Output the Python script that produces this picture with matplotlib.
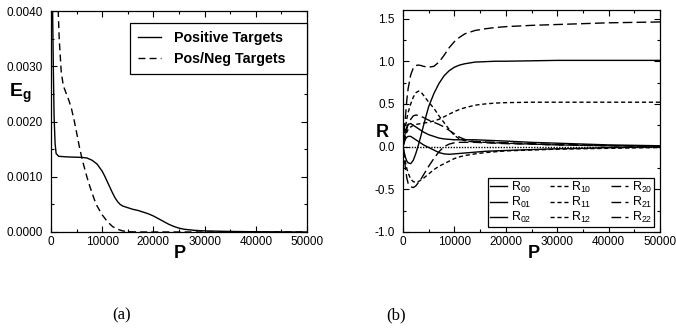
import numpy as np
import matplotlib
matplotlib.use("Agg")
from matplotlib import pyplot as plt
from matplotlib.ticker import MultipleLocator, FormatStrFormatter

plt.rcParams['font.family'] = ['Liberation Sans', 'DejaVu Sans']
plt.rcParams['mathtext.fontset'] = 'custom'
plt.rcParams['mathtext.rm'] = 'Liberation Sans'
plt.rcParams['mathtext.it'] = 'Liberation Sans'
plt.rcParams['mathtext.bf'] = 'Liberation Sans:bold'

# ---- panel (a): generalisation error E_g vs P
P_pos = [0, 150, 300, 450, 600, 800, 1000, 1500, 3000, 6000, 7000, 8000, 9000,
         10000, 10500, 11000, 11500, 12000, 12500, 13000, 13500, 14000, 15000,
         16000, 17000, 18000, 19000, 20000, 21000, 22000, 23000, 24000, 25000,
         26000, 28000, 30000, 35000, 40000, 45000, 50000]
Eg_pos = [0.0065, 0.0050, 0.0041, 0.0030, 0.0021, 0.0016, 0.00142, 0.00137,
          0.00136, 0.00135, 0.00134, 0.00130, 0.00123, 0.00110, 0.00101,
          0.00091, 0.00081, 0.00071, 0.00062, 0.00055, 0.00050, 0.00047,
          0.00044, 0.00041, 0.00039, 0.00036, 0.00033, 0.00029, 0.00024,
          0.00019, 0.00014, 0.00010, 0.00007, 0.00005, 0.00003, 0.00002,
          0.00001, 0.000005, 0.000002, 0.0]

P_pn = [1100, 1300, 1450, 1600, 1800, 2000, 2400, 3000, 3500, 4000, 4500, 5000,
        5500, 6000, 6500, 7000, 7500, 8000, 8500, 9000, 9500, 10000, 11000,
        12000, 13000, 14000, 15000, 17000, 50000]
Eg_pn = [0.0048, 0.0043, 0.0039, 0.0035, 0.0032, 0.0029, 0.00265, 0.00250,
         0.00238, 0.00223, 0.00203, 0.00180, 0.00156, 0.00135, 0.00117,
         0.00100, 0.00085, 0.00071, 0.00058, 0.00047, 0.00039, 0.00031,
         0.00019, 0.00010, 0.00005, 0.00002, 0.000005, 0.0, 0.0]

# ---- panel (b): overlaps R_ij vs P
P_R = [0, 250, 500, 750, 1000, 1500, 2000, 2500, 3000, 3500, 4000, 5000, 6000,
       7000, 8000, 9000, 10000, 11000, 12000, 13000, 14000, 16000, 18000,
       20000, 25000, 30000, 35000, 40000, 45000, 50000]
R00 = [0, -0.07, -0.13, -0.17, -0.19, -0.20, -0.16, -0.08, 0.02, 0.13, 0.25,
       0.47, 0.62, 0.74, 0.83, 0.89, 0.93, 0.955, 0.97, 0.98, 0.99, 0.995,
       1.0, 1.0, 1.005, 1.01, 1.01, 1.01, 1.01, 1.01]
R01 = [0, 0.10, 0.18, 0.23, 0.26, 0.27, 0.25, 0.23, 0.21, 0.19, 0.17, 0.14,
       0.12, 0.10, 0.09, 0.085, 0.08, 0.08, 0.08, 0.08, 0.08, 0.075, 0.07,
       0.065, 0.05, 0.04, 0.03, 0.02, 0.015, 0.01]
R02 = [0, 0.05, 0.09, 0.11, 0.12, 0.12, 0.10, 0.08, 0.06, 0.04, 0.02, -0.01,
       -0.04, -0.07, -0.085, -0.09, -0.085, -0.08, -0.075, -0.07, -0.065,
       -0.055, -0.05, -0.045, -0.035, -0.025, -0.02, -0.012, -0.008, -0.005]
R10 = [0, 0.12, 0.24, 0.33, 0.40, 0.50, 0.58, 0.63, 0.65, 0.64, 0.60, 0.52,
       0.45, 0.36, 0.28, 0.20, 0.13, 0.09, 0.07, 0.06, 0.055, 0.05, 0.045,
       0.04, 0.03, 0.02, 0.015, 0.01, 0.007, 0.005]
R11 = [0, 0.07, 0.13, 0.17, 0.20, 0.23, 0.25, 0.26, 0.265, 0.27, 0.275,
       0.285, 0.30, 0.32, 0.35, 0.38, 0.41, 0.435, 0.455, 0.47, 0.485, 0.50,
       0.51, 0.515, 0.52, 0.52, 0.52, 0.52, 0.52, 0.52]
R12 = [0, -0.10, -0.19, -0.26, -0.31, -0.38, -0.41, -0.42, -0.41, -0.39,
       -0.37, -0.32, -0.27, -0.23, -0.20, -0.17, -0.14, -0.12, -0.105, -0.095,
       -0.085, -0.07, -0.06, -0.05, -0.04, -0.03, -0.025, -0.02, -0.015, -0.01]
R20 = [0, 0.08, 0.15, 0.21, 0.26, 0.32, 0.36, 0.37, 0.365, 0.355, 0.34, 0.31,
       0.285, 0.26, 0.23, 0.19, 0.15, 0.11, 0.085, 0.07, 0.06, 0.055, 0.05,
       0.045, 0.035, 0.025, 0.02, 0.012, 0.008, 0.005]
R21 = [0, -0.14, -0.27, -0.37, -0.43, -0.47, -0.48, -0.46, -0.42, -0.38,
       -0.33, -0.23, -0.14, -0.06, 0.0, 0.03, 0.045, 0.05, 0.05, 0.05, 0.05,
       0.045, 0.04, 0.035, 0.028, 0.02, 0.015, 0.01, 0.007, 0.005]
R22 = [0, 0.20, 0.37, 0.55, 0.68, 0.84, 0.92, 0.95, 0.955, 0.95, 0.94, 0.93,
       0.94, 0.99, 1.07, 1.16, 1.23, 1.28, 1.32, 1.34, 1.36, 1.38, 1.395,
       1.405, 1.42, 1.43, 1.44, 1.45, 1.455, 1.46]

short_dash = (0, (3, 2))
long_dash = (0, (7, 3))

fig = plt.figure(figsize=(6.76, 3.28), dpi=100)
W, H = 676.0, 328.0
ax1 = fig.add_axes([51/W, 1-232/H, 256/W, 221/H])
ax2 = fig.add_axes([403/W, 1-232/H, 257/W, 222/H])

for ax in (ax1, ax2):
    ax.tick_params(which='both', direction='in', top=True, right=True,
                   labelsize=8.5, width=0.8)
    ax.tick_params(axis='x', pad=3)
    ax.tick_params(axis='y', pad=6)
    ax.tick_params(which='major', length=4)
    ax.tick_params(which='minor', length=2.5)
    for s in ax.spines.values():
        s.set_linewidth(0.9)
    ax.set_xlim(0, 50000)
    ax.xaxis.set_major_locator(MultipleLocator(10000))
    ax.xaxis.set_minor_locator(MultipleLocator(5000))

# panel (a)
ax1.plot(P_pos, Eg_pos, color='black', lw=1.0, label='Positive Targets')
ax1.plot(P_pn, Eg_pn, color='black', lw=1.0, linestyle=(0, (5, 3)),
         label='Pos/Neg Targets')
ax1.set_ylim(0, 0.004)
ax1.yaxis.set_major_locator(MultipleLocator(0.001))
ax1.yaxis.set_minor_locator(MultipleLocator(0.0005))
ax1.yaxis.set_major_formatter(FormatStrFormatter('%.4f'))
leg1 = ax1.legend(loc='upper left', bbox_to_anchor=(0.309, 0.715, 0.691, 0.231),
                  mode='expand', borderaxespad=0, fancybox=False,
                  edgecolor='black', framealpha=1, handlelength=1.6,
                  handletextpad=0.9, borderpad=0.55, labelspacing=0.5,
                  prop={'weight': 'bold', 'size': 10.3})
leg1.get_frame().set_linewidth(0.9)

# panel (b)
ax2.axhline(0, color='black', lw=1.0, linestyle=(0, (1, 1)))
curves = [(R00, '-', r'$R_{00}$'), (R01, '-', r'$R_{01}$'),
          (R02, '-', r'$R_{02}$'), (R10, short_dash, r'$R_{10}$'),
          (R11, short_dash, r'$R_{11}$'), (R12, short_dash, r'$R_{12}$'),
          (R20, long_dash, r'$R_{20}$'), (R21, long_dash, r'$R_{21}$'),
          (R22, long_dash, r'$R_{22}$')]
for vals, ls, lab in curves:
    ax2.plot(P_R, vals, color='black', lw=1.0, linestyle=ls, label=lab)
ax2.set_ylim(-1.0, 1.6)
ax2.yaxis.set_major_locator(MultipleLocator(0.5))
ax2.yaxis.set_minor_locator(MultipleLocator(0.25))
ax2.yaxis.set_major_formatter(FormatStrFormatter('%.1f'))
leg2 = ax2.legend(loc='lower left', bbox_to_anchor=(0.331, 0.0225, 0.646, 0.2),
                  mode='expand', ncol=3, borderaxespad=0, fancybox=False,
                  edgecolor='black', framealpha=1, handlelength=1.4,
                  handletextpad=0.3, columnspacing=0.8, borderpad=0.15,
                  labelspacing=0.0, prop={'size': 9})
leg2.get_frame().set_linewidth(0.9)

# axis labels and panel captions
fig.text(9/W, 1-97/H, r'$\mathbf{E_g}$', fontsize=14, va='baseline')
fig.text(180/W, 1-258/H, 'P', fontsize=13, fontweight='bold',
         ha='center', va='baseline')
fig.text(376/W, 1-137/H, 'R', fontsize=13, fontweight='bold', va='baseline')
fig.text(534/W, 1-258/H, 'P', fontsize=13, fontweight='bold',
         ha='center', va='baseline')
fig.text(122/W, 1-315/H, '(a)', fontsize=12, family='Liberation Serif',
         ha='center', va='center')
fig.text(396/W, 1-315/H, '(b)', fontsize=12, family='Liberation Serif',
         ha='center', va='center')

fig.savefig('out.png', dpi=100)
